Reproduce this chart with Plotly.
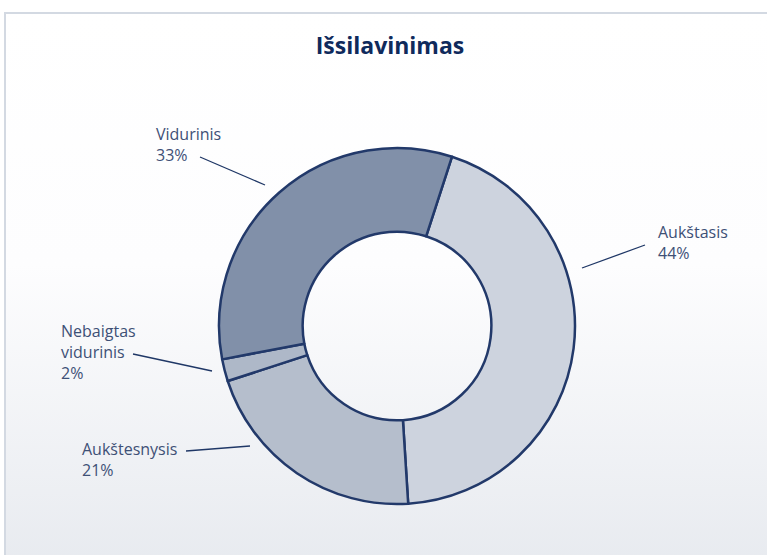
import plotly.graph_objects as go

categories = ["Aukštasis", "Aukštesnysis", "Nebaigtas<br>vidurinis", "Vidurinis"]
values = [44, 21, 2, 33]
colors = ["#CDD3DE", "#B5BECC", "#AEB8C8", "#8190A9"]

W, H = 767, 555
cx, cy, R = 397, 326, 178

grad_svg = (
    "data:image/svg+xml;utf8,<svg xmlns='http://www.w3.org/2000/svg' width='767' height='555'>"
    "<defs><linearGradient id='g' x1='0' y1='0' x2='0' y2='1'>"
    "<stop offset='0' stop-color='%23FFFFFF'/><stop offset='0.45' stop-color='%23FDFDFE'/>"
    "<stop offset='1' stop-color='%23E7EAEF'/></linearGradient></defs>"
    "<rect x='0' y='0' width='767' height='555' fill='%23FFFFFF'/>"
    "<rect x='5' y='13' width='770' height='560' fill='url(%23g)' stroke='%23D3D9E2' stroke-width='2'/></svg>"
)

fig = go.Figure()
fig.add_trace(go.Pie(
    labels=categories, values=values, sort=False, direction="clockwise", rotation=18,
    hole=0.53, textinfo="none", hoverinfo="label+percent",
    marker=dict(colors=colors, line=dict(color="#22396A", width=2.5)),
    domain=dict(x=[(cx - R) / W, (cx + R) / W], y=[1 - (cy + R) / H, 1 - (cy - R) / H]),
    showlegend=False,
))

label_font = dict(family="Open Sans", size=16, color="#3E5076")
labels_pos = [
    (656, 243, "Aukštasis<br>44%"),
    (80, 459, "Aukštesnysis<br>21%"),
    (59, 352, "Nebaigtas<br>vidurinis<br>2%"),
    (154, 144, "Vidurinis<br>33%"),
]
leaders = [
    ((582, 268), (645, 245)),
    ((250, 446), (186, 451)),
    ((212, 371), (133, 354)),
    ((265, 185), (200, 157)),
]
annotations = []
for (x, y, t) in labels_pos:
    annotations.append(dict(x=x / W, y=1 - y / H, xref="paper", yref="paper", text=t,
                            showarrow=False, xanchor="left", yanchor="middle", align="left",
                            font=label_font))
shapes = []
for (p0, p1) in leaders:
    shapes.append(dict(type="line", xref="paper", yref="paper",
                       x0=p0[0] / W, y0=1 - p0[1] / H, x1=p1[0] / W, y1=1 - p1[1] / H,
                       line=dict(color="#1F3766", width=1.3)))

fig.update_layout(
    width=W, height=H, margin=dict(l=0, r=0, t=0, b=0),
    paper_bgcolor="white", plot_bgcolor="white",
    title=dict(text="<b>Išsilavinimas</b>", x=390 / W, xanchor="center", y=1 - 46 / H, yanchor="middle",
               font=dict(family="Open Sans", size=23, color="#0F2A5C")),
    images=[dict(source=grad_svg, xref="paper", yref="paper", x=0, y=1, sizex=1, sizey=1,
                 xanchor="left", yanchor="top", sizing="stretch", layer="below")],
    annotations=annotations, shapes=shapes,
)
fig.write_html("out.html", config={"displayModeBar": False},
               post_script="document.body.style.margin='0';")
